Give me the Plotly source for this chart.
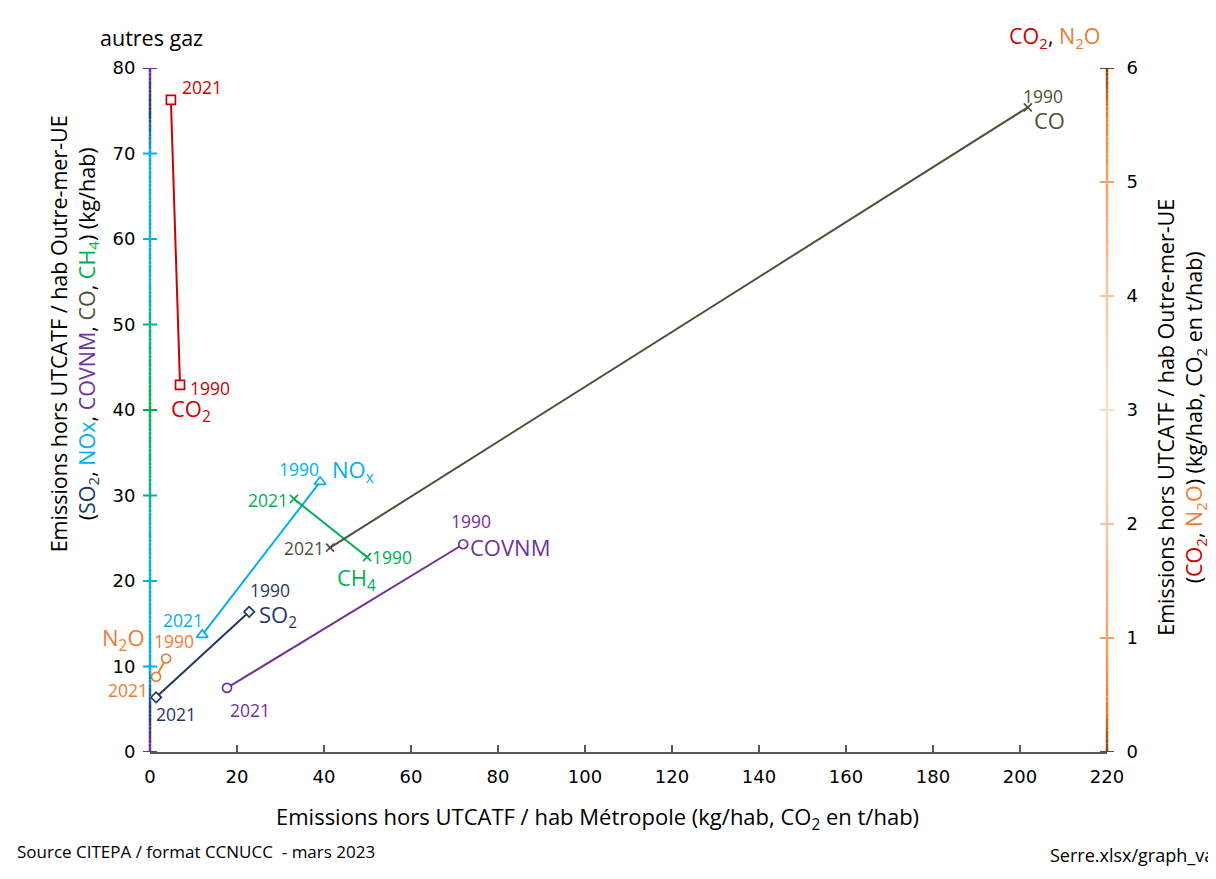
import plotly.graph_objects as go

# ---------------- data ----------------
years = ["1990", "2021"]
co2_x = [6.9, 4.8]      # t/hab Métropole
co2_y = [3.22, 5.72]    # t/hab Outre-mer (right axis)
n2o_x = [3.7, 1.4]
n2o_y = [0.82, 0.66]    # right axis
so2_x = [22.8, 1.4]
so2_y = [16.4, 6.4]
nox_x = [39.1, 12.0]
nox_y = [31.6, 13.7]
ch4_x = [49.9, 33.1]
ch4_y = [22.8, 29.6]
co_x = [201.8, 41.4]
co_y = [75.4, 23.9]
covnm_x = [72.0, 17.7]
covnm_y = [24.3, 7.5]

x_ticks = list(range(0, 221, 20))
yl_ticks = list(range(0, 81, 10))
yr_ticks = list(range(0, 7, 1))

FONT = "Open Sans"
TICKFONT = "DejaVu Sans"
C_CO2 = "#CC0000"
C_N2O = "#ED7D31"
C_SO2 = "#1F3864"
C_NOX = "#00B0F0"
C_CH4 = "#00B050"
C_CO = "#4F4F3B"
C_COVNM = "#7030A0"

fig = go.Figure()

def add_series(xs, ys, color, symbol, yaxis="y", size=8):
    fig.add_trace(go.Scatter(
        x=xs, y=ys, mode="lines+markers", yaxis=yaxis,
        line=dict(color=color, width=2),
        marker=dict(symbol=symbol, size=size, color="white",
                    line=dict(color=color, width=1.7)),
        showlegend=False, hoverinfo="x+y"))

add_series(co2_x, co2_y, C_CO2, "square", "y2", 9)
add_series(n2o_x, n2o_y, C_N2O, "circle", "y2", 9)
add_series(so2_x, so2_y, C_SO2, "diamond", "y", 8)
add_series(nox_x, nox_y, C_NOX, "triangle-up", "y", 10)
add_series(ch4_x, ch4_y, C_CH4, "x-thin", "y", 8)
add_series(co_x, co_y, C_CO, "x-thin", "y", 8)
add_series(covnm_x, covnm_y, C_COVNM, "circle", "y", 9)

ann = []
YS = 17.5
GS = 22

def lab(x, y, text, color, xshift, yshift, xanchor="center", size=YS, yref="y"):
    ann.append(dict(x=x, y=y, xref="x", yref=yref, text=text, showarrow=False,
                    xshift=xshift, yshift=yshift, xanchor=xanchor, yanchor="middle",
                    font=dict(family=FONT, size=size, color=color)))

# CO2
lab(co2_x[1], co2_y[1], years[1], C_CO2, 9, 13, "left", yref="y2")
lab(co2_x[0], co2_y[0], years[0], C_CO2, 8, -3, "left", yref="y2")
lab(co2_x[0], co2_y[0], "CO<sub>2</sub>", C_CO2, -11, -25, "left", GS, yref="y2")
# N2O
lab(n2o_x[0], n2o_y[0], years[0], C_N2O, 8, 18, "center", yref="y2")
lab(n2o_x[0], n2o_y[0], "N<sub>2</sub>O", C_N2O, -19, 20, "right", GS, yref="y2")
lab(n2o_x[1], n2o_y[1], years[1], C_N2O, -6, -13, "right", yref="y2")
# SO2
lab(so2_x[0], so2_y[0], years[0], C_SO2, 21, 22)
lab(so2_x[0], so2_y[0], "SO<sub>2</sub>", C_SO2, 8, -4, "left", GS)
lab(so2_x[1], so2_y[1], years[1], C_SO2, 20, -17)
# NOx
lab(nox_x[0], nox_y[0], years[0], C_NOX, -21, 13)
lab(nox_x[0], nox_y[0], "NO<sub>x</sub>", C_NOX, 10, 11, "left", GS)
lab(nox_x[1], nox_y[1], years[1], C_NOX, -19, 15)
# CH4
lab(ch4_x[1], ch4_y[1], years[1], C_CH4, -4, -1, "right")
lab(ch4_x[0], ch4_y[0], years[0], C_CH4, 3, 0, "left")
lab(ch4_x[0], ch4_y[0], "CH<sub>4</sub>", C_CH4, -11, -22, "center", GS)
# CO
lab(co_x[1], co_y[1], years[1], C_CO, -4, 0, "right")
lab(co_x[0], co_y[0], years[0], C_CO, 15, 11)
lab(co_x[0], co_y[0], "CO", C_CO, 4, -13, "left", GS)
# COVNM
lab(covnm_x[0], covnm_y[0], years[0], C_COVNM, 8, 23)
lab(covnm_x[0], covnm_y[0], "COVNM", C_COVNM, 5, -3, "left", GS)
lab(covnm_x[1], covnm_y[1], years[1], C_COVNM, 23, -22)

TS = 21.5
# axis titles & headers
ann += [
    dict(xref="paper", yref="paper", x=-0.0805, y=0.612, textangle=-90, showarrow=False,
         xanchor="center", yanchor="middle", align="center",
         font=dict(family=FONT, size=TS, color="black"),
         text="Emissions hors UTCATF / hab Outre-mer-UE<br>(<span style='color:%s'>SO<sub>2</sub></span>, "
              "<span style='color:%s'>NOx</span>, <span style='color:%s'>COVNM</span>, "
              "<span style='color:%s'>CO</span>, <span style='color:%s'>CH<sub>4</sub></span>) (kg/hab)"
              % (C_SO2, C_NOX, C_COVNM, C_CO, C_CH4)),
    dict(xref="paper", yref="paper", x=1.0773, y=0.49, textangle=-90, showarrow=False,
         xanchor="center", yanchor="middle", align="center",
         font=dict(family=FONT, size=TS, color="black"),
         text="Emissions hors UTCATF / hab Outre-mer-UE<br>(<span style='color:%s'>CO<sub>2</sub></span>, "
              "<span style='color:%s'>N<sub>2</sub>O</span>) (kg/hab, CO<sub>2</sub> en t/hab)" % (C_CO2, C_N2O)),
    dict(xref="paper", yref="paper", x=0.002, y=1.044, showarrow=False, xanchor="center", yanchor="middle",
         font=dict(family=FONT, size=TS, color="black"), text="autres gaz"),
    dict(xref="paper", yref="paper", x=0.9457, y=1.045, showarrow=False, xanchor="center", yanchor="middle",
         font=dict(family=FONT, size=TS, color="black"),
         text="<span style='color:%s'>CO<sub>2</sub></span>, <span style='color:%s'>N<sub>2</sub>O</span>" % (C_CO2, C_N2O)),
    dict(xref="paper", yref="paper", x=0.468, y=-0.0965, showarrow=False, xanchor="center", yanchor="middle",
         font=dict(family=FONT, size=22, color="black"),
         text="Emissions hors UTCATF / hab Métropole (kg/hab, CO<sub>2</sub> en t/hab)"),
    dict(xref="paper", yref="paper", x=-0.141, y=-0.146, showarrow=False, xanchor="left", yanchor="middle",
         font=dict(family=FONT, size=17, color="black"),
         text="Source CITEPA / format CCNUCC  - mars 2023"),
    dict(xref="paper", yref="paper", x=0.9384, y=-0.151, showarrow=False, xanchor="left", yanchor="middle",
         font=dict(family=FONT, size=18, color="black"),
         text="Serre.xlsx/graph_var"),
]

# ---------------- gradient axis lines (decoration) ----------------
def interp(stops, v):
    for (a, ca), (b, cb) in zip(stops[:-1], stops[1:]):
        if a <= v <= b:
            t = 0 if b == a else (v - a) / (b - a)
            c = [round(ca[i] + (cb[i] - ca[i]) * t) for i in range(3)]
            return "rgb(%d,%d,%d)" % tuple(c)
    c = stops[-1][1]
    return "rgb(%d,%d,%d)" % tuple(c)

left_stops = [(0, (112, 48, 160)), (5, (31, 56, 100)), (10, (0, 176, 240)), (22, (0, 180, 200)),
              (40, (0, 176, 80)), (58, (0, 180, 200)), (70, (0, 176, 240)), (75, (31, 56, 100)),
              (80, (112, 48, 160))]
right_stops = [(0, (132, 60, 12)), (0.4, (237, 125, 49)), (1, (244, 160, 100)), (2, (249, 195, 155)),
               (3, (252, 222, 198)), (4, (249, 195, 155)), (5, (244, 160, 100)), (5.6, (237, 125, 49)),
               (6, (132, 60, 12))]

shapes = []
N = 160
for i in range(N):
    v0 = 80 * i / N
    v1 = 80 * (i + 1) / N
    shapes.append(dict(type="line", xref="paper", yref="y", x0=0, x1=0, y0=v0, y1=v1,
                       line=dict(color=interp(left_stops, (v0 + v1) / 2), width=2.5)))
    w0 = 6 * i / N
    w1 = 6 * (i + 1) / N
    shapes.append(dict(type="line", xref="paper", yref="y2", x0=1, x1=1, y0=w0, y1=w1,
                       line=dict(color=interp(right_stops, (w0 + w1) / 2), width=2.5)))
tk = 7 / 957
for v in yl_ticks:
    shapes.append(dict(type="line", xref="paper", yref="y", x0=-tk, x1=tk, y0=v, y1=v,
                       line=dict(color=interp(left_stops, v), width=2)))
for v in yr_ticks:
    shapes.append(dict(type="line", xref="paper", yref="y2", x0=1 - tk, x1=1 + tk, y0=v, y1=v,
                       line=dict(color=interp(right_stops, v), width=2)))

fig.update_layout(
    width=1208, height=871,
    margin=dict(l=142, r=109, t=60, b=127),
    paper_bgcolor="white", plot_bgcolor="white",
    font=dict(family=FONT, size=17, color="black"),
    annotations=ann, shapes=shapes,
    xaxis=dict(range=[0, 220], tickvals=x_ticks, showgrid=False, zeroline=False,
               showline=True, linecolor="#595959", linewidth=1.5,
               ticks="inside", ticklen=7, tickcolor="#595959", tickwidth=1.5,
               ticklabelstandoff=8,
               tickfont=dict(family=TICKFONT, size=18, color="black")),
    yaxis=dict(range=[0, 80], tickvals=yl_ticks, showgrid=False, zeroline=False,
               showline=False, ticks="outside", ticklen=10, tickcolor="rgba(0,0,0,0)",
               tickfont=dict(family=TICKFONT, size=18, color="black")),
    yaxis2=dict(range=[0, 6], tickvals=yr_ticks, overlaying="y", side="right",
                showgrid=False, zeroline=False, showline=False,
                ticks="outside", ticklen=15, tickcolor="rgba(0,0,0,0)",
                tickfont=dict(family=TICKFONT, size=18, color="black")),
)

fig.write_html("out.html")
